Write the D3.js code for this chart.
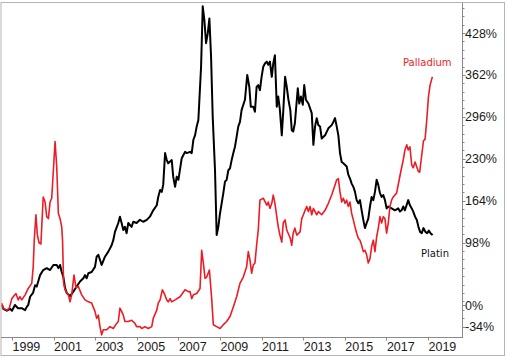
<!DOCTYPE html>
<html>
<head>
<meta charset="utf-8">
<script src="https://cdn.jsdelivr.net/npm/d3@7"></script>
<style>
  html, body { margin: 0; padding: 0; background: #fff; }
  svg { display: block; }
</style>
</head>
<body>
<svg id="chart" width="506" height="357"></svg>
<script>
// ---- Data (decimal year, % change) ----
const platinYears = [1998.52,1998.58,1998.75,1998.90,1999.0,1999.14,1999.29,1999.47,1999.63,1999.71,1999.78,1999.87,2000.01,2000.11,2000.19,2000.26,2000.35,2000.50,2000.67,2000.83,2000.99,2001.15,2001.23,2001.31,2001.39,2001.47,2001.55,2001.63,2001.79,2001.95,2002.11,2002.27,2002.43,2002.51,2002.59,2002.67,2002.83,2002.99,2003.07,2003.15,2003.31,2003.47,2003.63,2003.79,2003.87,2003.95,2004.11,2004.19,2004.27,2004.35,2004.43,2004.51,2004.59,2004.75,2004.83,2004.99,2005.15,2005.31,2005.48,2005.63,2005.79,2005.96,2006.03,2006.12,2006.20,2006.27,2006.36,2006.44,2006.51,2006.68,2006.75,2006.84,2006.92,2007.00,2007.16,2007.24,2007.32,2007.40,2007.56,2007.64,2007.72,2007.80,2007.88,2007.96,2008.00,2008.09,2008.17,2008.25,2008.33,2008.41,2008.49,2008.57,2008.65,2008.76,2008.84,2008.92,2009.00,2009.16,2009.24,2009.32,2009.40,2009.48,2009.56,2009.64,2009.72,2009.80,2009.88,2009.96,2010.04,2010.20,2010.31,2010.41,2010.48,2010.60,2010.68,2010.76,2010.84,2010.92,2011.00,2011.08,2011.16,2011.25,2011.32,2011.40,2011.49,2011.56,2011.64,2011.73,2011.80,2011.88,2011.97,2012.05,2012.13,2012.21,2012.29,2012.38,2012.45,2012.52,2012.60,2012.74,2012.81,2012.89,2012.98,2013.05,2013.13,2013.25,2013.41,2013.49,2013.57,2013.65,2013.73,2013.81,2013.89,2014.05,2014.21,2014.37,2014.45,2014.53,2014.61,2014.69,2014.77,2014.85,2014.93,2015.09,2015.17,2015.25,2015.33,2015.41,2015.49,2015.57,2015.65,2015.73,2015.81,2015.89,2015.97,2016.05,2016.13,2016.21,2016.29,2016.37,2016.45,2016.53,2016.61,2016.69,2016.77,2016.85,2016.93,2017.01,2017.09,2017.25,2017.41,2017.57,2017.65,2017.73,2017.81,2017.89,2018.05,2018.13,2018.22,2018.29,2018.38,2018.46,2018.54,2018.62,2018.70,2018.78,2018.88,2018.96,2019.04,2019.12,2019.22];
const platinValues = [0,-6,-9,-6,-9,0,-5,-5,-8,-3,0,13,19,31,29,37,47,55,58,55,63,63,58,63,52,44,27,19,14,21,29,37,42,47,42,50,52,60,76,79,63,76,84,94,102,115,129,139,129,118,123,113,129,123,131,129,134,131,134,139,149,157,170,181,178,189,239,228,223,228,202,186,202,197,231,236,241,239,241,239,260,267,281,291,317,375,470,448,412,427,451,391,296,212,110,123,144,176,194,197,212,215,228,239,249,265,281,288,307,323,362,343,312,312,304,343,346,338,359,375,380,383,378,383,359,380,393,312,328,307,267,310,359,343,323,307,275,273,286,341,317,328,315,346,323,317,302,252,281,294,283,281,262,267,278,283,288,294,281,267,239,225,223,218,205,199,191,186,178,165,160,165,149,134,121,129,136,155,170,165,178,197,189,176,170,173,165,152,155,152,149,152,147,149,155,149,165,157,152,147,139,134,123,115,113,121,115,113,117,113,110];

const palladiumYears = [1998.50,1998.58,1998.75,1998.87,1998.99,1999.06,1999.19,1999.30,1999.38,1999.47,1999.63,1999.78,1999.95,2000.02,2000.07,2000.15,2000.22,2000.30,2000.39,2000.50,2000.59,2000.67,2000.75,2000.83,2000.91,2000.99,2001.07,2001.15,2001.23,2001.31,2001.39,2001.43,2001.48,2001.55,2001.71,2001.79,2001.87,2001.98,2002.08,2002.19,2002.35,2002.51,2002.67,2002.83,2002.99,2003.07,2003.15,2003.23,2003.31,2003.39,2003.55,2003.71,2003.87,2004.03,2004.11,2004.19,2004.27,2004.35,2004.43,2004.59,2004.75,2004.91,2004.99,2005.15,2005.24,2005.39,2005.55,2005.72,2005.79,2005.96,2006.03,2006.12,2006.23,2006.32,2006.44,2006.51,2006.60,2006.68,2006.84,2007.08,2007.32,2007.48,2007.56,2007.64,2007.72,2007.88,2008.04,2008.12,2008.20,2008.28,2008.36,2008.49,2008.60,2008.68,2008.84,2009.00,2009.16,2009.32,2009.48,2009.64,2009.80,2009.96,2010.12,2010.28,2010.36,2010.44,2010.52,2010.60,2010.68,2010.76,2010.84,2010.92,2011.08,2011.25,2011.32,2011.40,2011.49,2011.56,2011.64,2011.73,2011.80,2011.88,2011.97,2012.04,2012.13,2012.21,2012.38,2012.45,2012.52,2012.60,2012.69,2012.85,2012.93,2013.01,2013.09,2013.17,2013.25,2013.33,2013.41,2013.49,2013.57,2013.65,2013.73,2013.89,2014.05,2014.21,2014.37,2014.53,2014.61,2014.69,2014.77,2014.85,2014.93,2015.01,2015.09,2015.17,2015.25,2015.33,2015.41,2015.49,2015.57,2015.65,2015.73,2015.81,2015.89,2015.97,2016.05,2016.13,2016.21,2016.29,2016.37,2016.45,2016.53,2016.61,2016.69,2016.77,2016.85,2016.93,2017.01,2017.09,2017.17,2017.25,2017.33,2017.49,2017.65,2017.73,2017.81,2017.89,2017.98,2018.05,2018.13,2018.22,2018.29,2018.38,2018.46,2018.54,2018.60,2018.70,2018.78,2018.86,2018.94,2019.02,2019.10,2019.21];
const palladiumValues = [3,-5,-8,-5,10,13,18,8,13,8,16,26,34,60,102,142,110,98,96,170,162,139,136,162,168,212,257,218,144,136,123,102,35,24,16,5,16,47,27,29,16,8,5,3,-10,-21,-16,-34,-47,-39,-39,-34,-37,-29,-26,-5,-10,-16,-26,-26,-24,-29,-34,-34,-37,-34,-37,-34,-21,-8,3,8,24,18,8,5,10,5,8,13,24,21,21,10,16,18,26,86,66,42,44,55,10,-31,-34,-37,-31,-26,-18,-3,13,34,44,60,84,71,50,63,66,94,118,165,168,157,162,152,160,173,160,139,123,110,99,129,134,118,105,94,113,121,110,115,136,142,149,155,147,155,142,152,147,142,147,142,149,160,173,189,197,199,178,162,168,160,165,155,162,144,134,123,113,105,102,94,84,86,79,66,73,92,102,84,107,121,139,129,139,136,113,129,155,165,170,176,203,216,228,244,252,244,249,220,216,225,217,210,209,236,258,261,291,327,346,359];

const xTickYears = [1999,2001,2003,2005,2007,2009,2011,2013,2015,2017,2019];
const yTickLabels = [-34,0,98,164,230,296,362,428];
const seriesNames = ["Platin","Palladium"];

// ---- Layout ----
const W = 506, H = 357;
const svg = d3.select("#chart");
const plotLeft = 1.5, plotRight = 462, plotTop = 3, plotBottom = 337;

const x = d3.scaleLinear().domain([1999, 2019]).range([12, 428]);
const y = d3.scaleLinear().domain([0, 428]).range([305, 33]);

// outer frame
svg.append("rect")
  .attr("x", 1).attr("y", 2.5).attr("width", 503.5).attr("height", 353)
  .attr("fill", "none").attr("stroke", "#b4b4b4").attr("stroke-width", 1);

// clip
svg.append("clipPath").attr("id", "clip")
  .append("rect").attr("x", plotLeft).attr("y", plotTop)
  .attr("width", plotRight - plotLeft).attr("height", plotBottom - plotTop);

const line = d3.line()
  .x(d => x(d[0]))
  .y(d => y(d[1]));

const platinData = platinYears.map((t, i) => [t, platinValues[i]]);
const palladiumData = palladiumYears.map((t, i) => [t, palladiumValues[i]]);

const g = svg.append("g").attr("clip-path", "url(#clip)");
g.append("path").datum(platinData)
  .attr("d", line).attr("fill", "none")
  .attr("stroke", "#000").attr("stroke-width", 2)
  .attr("stroke-linejoin", "round");
g.append("path").datum(palladiumData)
  .attr("d", line).attr("fill", "none")
  .attr("stroke", "#ec1c24").attr("stroke-width", 1.6)
  .attr("stroke-linejoin", "round");

// x axis
const xAxisG = svg.append("g");
xAxisG.append("line")
  .attr("x1", 1).attr("x2", plotRight).attr("y1", plotBottom + 0.5).attr("y2", plotBottom + 0.5)
  .attr("stroke", "#8a8a8a");
xAxisG.selectAll("line.tick").data(xTickYears).enter().append("line")
  .attr("class", "tick")
  .attr("x1", d => Math.round(x(d)) + 0.5).attr("x2", d => Math.round(x(d)) + 0.5)
  .attr("y1", plotBottom).attr("y2", plotBottom + 3.5)
  .attr("stroke", "#8a8a8a");
xAxisG.selectAll("text").data(xTickYears).enter().append("text")
  .attr("x", d => x(d) + 0.5).attr("y", 351)
  .attr("font-family", "Liberation Sans, Arial, sans-serif")
  .attr("font-size", 12.5).attr("fill", "#1a1a1a")
  .text(d => d);

// y axis (right)
const yAxisG = svg.append("g");
yAxisG.append("line")
  .attr("x1", plotRight + 0.5).attr("x2", plotRight + 0.5)
  .attr("y1", plotTop).attr("y2", plotBottom + 1)
  .attr("stroke", "#8a8a8a");
const minorTicks = d3.range(-34 + 13.2, 475, 13.2);
yAxisG.selectAll("line.minor").data(minorTicks).enter().append("line")
  .attr("class", "minor")
  .attr("x1", plotRight).attr("x2", plotRight + 2.5)
  .attr("y1", d => Math.round(y(d)) + 0.5).attr("y2", d => Math.round(y(d)) + 0.5)
  .attr("stroke", "#8a8a8a");
yAxisG.selectAll("line.major").data(yTickLabels).enter().append("line")
  .attr("class", "major")
  .attr("x1", plotRight).attr("x2", plotRight + 3.5)
  .attr("y1", d => Math.round(y(d)) + 0.5).attr("y2", d => Math.round(y(d)) + 0.5)
  .attr("stroke", "#8a8a8a");
yAxisG.selectAll("text").data(yTickLabels).enter().append("text")
  .attr("x", plotRight + 3).attr("y", d => y(d))
  .attr("dy", "0.36em")
  .attr("font-family", "Liberation Sans, Arial, sans-serif")
  .attr("font-size", 12.5).attr("fill", "#1a1a1a")
  .text(d => d + "%");

// series labels
svg.append("text")
  .attr("x", 403).attr("y", 66)
  .attr("font-family", "DejaVu Sans, Verdana, sans-serif")
  .attr("font-size", 10).attr("fill", "#ec1c24")
  .text(seriesNames[1]);
svg.append("text")
  .attr("x", 421).attr("y", 257)
  .attr("font-family", "DejaVu Sans, Verdana, sans-serif")
  .attr("font-size", 10).attr("fill", "#111")
  .text(seriesNames[0]);
</script>
</body>
</html>
